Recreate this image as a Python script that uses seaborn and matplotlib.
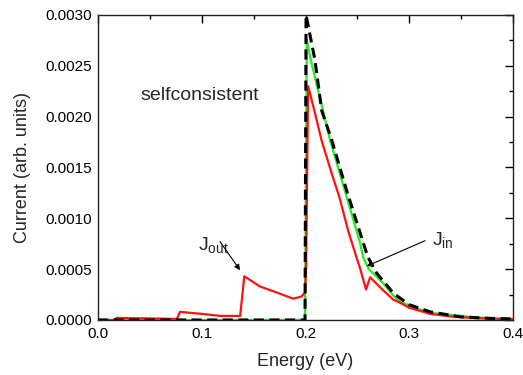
import matplotlib
matplotlib.use("Agg")
import matplotlib.pyplot as plt
import seaborn as sns
import pandas as pd
from matplotlib.ticker import MultipleLocator, FormatStrFormatter

sns.set_theme(style="white")
plt.rcParams['font.family'] = ['Liberation Sans', 'DejaVu Sans']
plt.rcParams['mathtext.fontset'] = 'custom'
plt.rcParams['mathtext.rm'] = 'Liberation Sans'
plt.rcParams['mathtext.it'] = 'Liberation Sans'

# J_out (red, selfconsistent)
out_x = [0.0, 0.015, 0.018, 0.05, 0.076, 0.079, 0.1, 0.118, 0.137, 0.141, 0.156, 0.175,
         0.188, 0.196, 0.1995, 0.2005, 0.2025, 0.209, 0.2156, 0.2268, 0.2326, 0.241,
         0.2493, 0.2525, 0.2583, 0.2622, 0.275, 0.2846, 0.291, 0.30, 0.307, 0.32, 0.34,
         0.36, 0.38, 0.4]
out_y = [0.0, 0.0, 0.00002, 0.000015, 0.00001, 0.00008, 0.00006, 0.00004, 0.00004, 0.00043,
         0.00033, 0.00026, 0.00021, 0.00023, 0.00027, 0.0005, 0.0023, 0.00204,
         0.00176, 0.00139, 0.00121, 0.00088, 0.00061, 0.00051, 0.0003, 0.00042, 0.00029,
         0.0002, 0.00017, 0.00012, 0.0001, 0.00006, 0.000035, 0.00002, 0.000012, 0.000008]

# J_in (green)
in_x = [0.0, 0.1995, 0.2012, 0.205, 0.2236, 0.2397, 0.2525, 0.2557, 0.261, 0.275, 0.2846,
        0.291, 0.307, 0.32, 0.339, 0.36, 0.38, 0.4]
in_y = [0.0, 0.0, 0.00276, 0.00256, 0.00177, 0.00121, 0.00076, 0.00061, 0.0005, 0.00036,
        0.00024, 0.00018, 0.000115, 0.00007, 0.00005, 0.00003, 0.000015, 0.00001]

# reference (black dashed)
ref_x = [0.0, 0.1995, 0.2005, 0.209, 0.2156, 0.2252, 0.2397, 0.26, 0.2686, 0.285, 0.30,
         0.32, 0.35, 0.38, 0.4]
ref_y = [0.0, 0.0, 0.0030, 0.00256, 0.00206, 0.00177, 0.00127, 0.00062, 0.00046, 0.00026,
         0.00015, 0.00008, 0.00003, 0.000015, 0.00001]

fig = plt.figure(figsize=(5.23, 3.75), dpi=100)
ax = fig.add_axes([0.1874, 0.1467, 0.7936, 0.8133])

d_in = pd.DataFrame({"x": in_x, "y": in_y})
d_out = pd.DataFrame({"x": out_x, "y": out_y})
d_ref = pd.DataFrame({"x": ref_x, "y": ref_y})

sns.lineplot(data=d_in, x="x", y="y", ax=ax, color="#22ee22", lw=1.6, sort=False,
             estimator=None, zorder=2)
sns.lineplot(data=d_out, x="x", y="y", ax=ax, color="#ff1111", lw=1.6, sort=False,
             estimator=None, zorder=3)
sns.lineplot(data=d_ref, x="x", y="y", ax=ax, color="black", lw=2.2, sort=False,
             estimator=None, zorder=4, dashes=False)
ax.lines[-1].set_dashes([3.3, 1.8])

ax.set_xlim(0.0, 0.4)
ax.set_ylim(0.0, 0.0030)
ax.xaxis.set_major_locator(MultipleLocator(0.1))
ax.xaxis.set_minor_locator(MultipleLocator(0.05))
ax.yaxis.set_major_locator(MultipleLocator(0.0005))
ax.yaxis.set_minor_locator(MultipleLocator(0.00025))
ax.xaxis.set_major_formatter(FormatStrFormatter("%.1f"))
ax.yaxis.set_major_formatter(FormatStrFormatter("%.4f"))
ax.tick_params(which="both", direction="in", top=True, right=True, colors="black",
               labelsize=11)
ax.tick_params(axis="x", which="major", pad=5)
ax.tick_params(axis="y", which="major", pad=4)
ax.tick_params(which="major", length=6, width=1)
ax.tick_params(which="minor", length=3, width=1)
for s in ax.spines.values():
    s.set_color("#222222")
    s.set_linewidth(1.0)

ax.set_xlabel("Energy (eV)", fontsize=13, labelpad=9)
ax.set_ylabel("Current (arb. units)", fontsize=13, labelpad=11)

ax.text(0.0405, 0.00221, "selfconsistent", fontsize=14, va="center", ha="left")
ax.text(0.0964, 0.00069, r"J$_{\rm out}$", fontsize=14, va="baseline", ha="left")
ax.text(0.322, 0.00074, r"J$_{\rm in}$", fontsize=14, va="baseline", ha="left")
ax.annotate("", xy=(0.1369, 0.00049), xytext=(0.1176, 0.00077),
            arrowprops=dict(arrowstyle="-|>", color="black", lw=0.8, mutation_scale=8,
                            shrinkA=0, shrinkB=0))
ax.annotate("", xy=(0.259, 0.00053), xytext=(0.3152, 0.00078),
            arrowprops=dict(arrowstyle="-|>", color="black", lw=0.8, mutation_scale=8,
                            shrinkA=0, shrinkB=0))

fig.savefig("out.png", dpi=100)
